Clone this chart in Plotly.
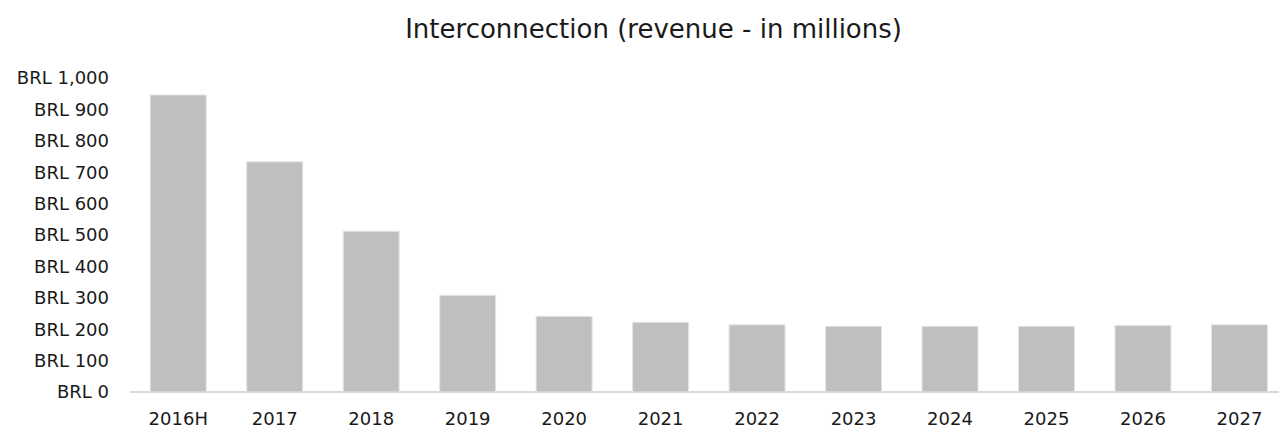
import plotly.graph_objects as go

# Interconnection revenue by year (BRL millions)
years = ["2016H", "2017", "2018", "2019", "2020", "2021",
         "2022", "2023", "2024", "2025", "2026", "2027"]
revenue = [946, 733, 512, 308, 241, 222, 214, 209, 209, 209, 212, 214]

y_ticks = list(range(0, 1001, 100))
y_tick_text = [f"BRL {v:,}" for v in y_ticks]

FONT = "DejaVu Sans"
TEXT_COLOR = "#1a1a1a"

fig = go.Figure(
    go.Bar(
        x=list(range(len(years))),
        y=revenue,
        width=0.58,
        marker=dict(color="#bfbfbf", line=dict(color="#e4e4e4", width=1)),
        hoverinfo="x+y",
    )
)

fig.update_layout(
    width=1279,
    height=428,
    margin=dict(l=130, r=0, t=78, b=36),
    paper_bgcolor="white",
    plot_bgcolor="white",
    showlegend=False,
    title=dict(
        text="Interconnection (revenue - in millions)",
        x=0.511,
        xanchor="center",
        y=0.932,
        yanchor="middle",
        font=dict(family=FONT, size=26, color=TEXT_COLOR),
    ),
    xaxis=dict(
        tickmode="array",
        tickvals=list(range(len(years))),
        ticktext=years,
        range=[-0.5, 11.41],
        showgrid=False,
        zeroline=False,
        showline=False,
        ticks="",
        tickfont=dict(family=FONT, size=18, color=TEXT_COLOR),
        ticklabelstandoff=14,
    ),
    yaxis=dict(
        range=[0, 1000],
        tickmode="array",
        tickvals=y_ticks,
        ticktext=y_tick_text,
        showgrid=False,
        zeroline=True,
        zerolinecolor="#d9d9d9",
        zerolinewidth=2,
        showline=False,
        ticks="",
        tickfont=dict(family=FONT, size=18, color=TEXT_COLOR),
        ticklabelstandoff=20,
    ),
)

fig.write_html("out.html")
